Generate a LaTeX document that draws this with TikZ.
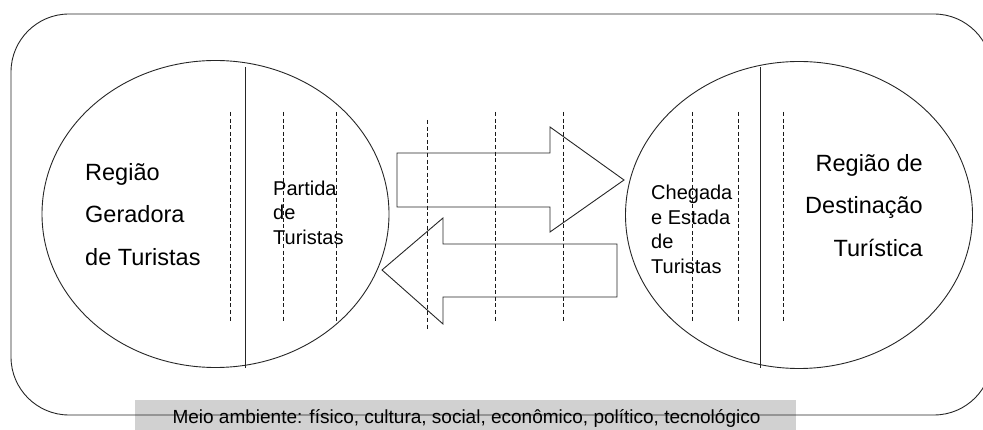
\documentclass[tikz,border=0pt]{standalone}
\usepackage{fontspec}
\setmainfont{Liberation Sans}
\usetikzlibrary{shapes.geometric}
\begin{document}
\begin{tikzpicture}[x=1pt,y=-1pt,
  outline/.style={draw=black!85, line width=0.9pt},
  region/.style={outline, ellipse, inner sep=0pt, minimum width=347pt, minimum height=307pt},
  flowline/.style={draw=black!90, line width=0.9pt, dash pattern=on 4pt off 2.6pt},
  flowarrow/.style={outline, line join=miter},
  bigtext/.style={font=\fontsize{23.5}{42.5}\selectfont, inner sep=0pt},
  smalltext/.style={font=\fontsize{20}{24.5}\selectfont, inner sep=0pt},
  envtext/.style={font=\fontsize{19}{21}\selectfont, inner sep=0pt},
]
\useasboundingbox (0,0) rectangle (983,430);

% environment band
\fill[black!18] (135,400) rectangle (796,430);
\draw[outline, rounded corners=58pt] (11,14) rectangle (992,415);
\node[envtext] (env) at (466.5,418) {Meio ambiente: físico, cultura, social, econômico, político, tecnológico};

% generating and destination regions
\node[region] (gen) at (215.5,214) {};
\node[region] (dest) at (799,215) {};
\draw[outline] (245,67) -- (245,368);
\draw[outline] (760,67) -- (760,368);

% dashed transit lines
\foreach \x in {230,283,336,495,563,692,738,783}
  \draw[flowline] (\x,112) -- (\x,323);
\draw[flowline] (427,120) -- (427,331);

% flows between the regions
\draw[flowarrow] (397,153) -- (550,153) -- (550,127) -- (624,180) -- (550,232) -- (550,207) -- (397,207) -- cycle;
\draw[flowarrow] (617,244) -- (443,244) -- (443,218) -- (382,270) -- (443,324) -- (443,297) -- (617,297) -- cycle;

% labels
\node[bigtext, anchor=west, align=left] (gentext) at (85,214.5) {Região\\Geradora\\de Turistas};
\node[smalltext, anchor=west, align=left] (parttext) at (273,212.5) {Partida\\de\\Turistas};
\node[smalltext, anchor=west, align=left] (chegtext) at (651,229.5) {Chegada\\e Estada\\de\\Turistas};
\node[bigtext, anchor=east, align=right] (desttext) at (923,205.5) {Região de\\Destinação\\Turística};
\end{tikzpicture}
\end{document}
